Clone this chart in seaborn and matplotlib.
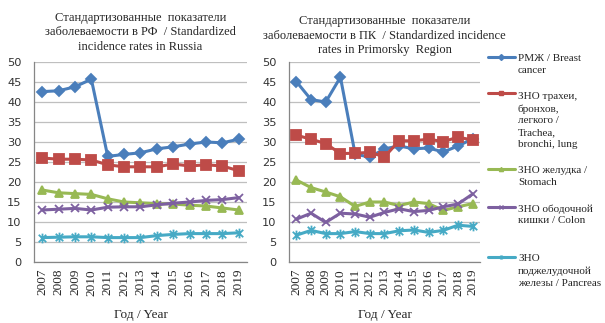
import numpy as np
import pandas as pd
import matplotlib
matplotlib.use("Agg")
import matplotlib.pyplot as plt
import seaborn as sns
from matplotlib.legend_handler import HandlerLine2D
from matplotlib.lines import Line2D
from matplotlib.path import Path
from matplotlib.font_manager import FontProperties

years = list(range(2007, 2020))

# Russia
ru_breast = [42.6, 42.8, 43.8, 45.7, 26.4, 26.9, 27.3, 28.3, 28.8, 29.5, 30.0, 29.8, 30.7]
ru_lung = [26.0, 25.7, 25.7, 25.5, 24.3, 23.8, 23.8, 23.8, 24.5, 24.0, 24.3, 24.0, 22.8]
ru_stomach = [18.0, 17.3, 17.1, 16.9, 15.8, 15.0, 14.8, 14.6, 14.5, 14.2, 14.0, 13.5, 13.0]
ru_colon = [13.0, 13.2, 13.4, 13.0, 13.7, 13.8, 13.8, 14.3, 14.7, 15.0, 15.4, 15.6, 16.1]
ru_pancreas = [6.1, 6.2, 6.3, 6.3, 6.1, 6.1, 6.1, 6.6, 6.9, 7.1, 7.1, 7.1, 7.3]

# Primorsky Region
pk_breast = [45.1, 40.6, 40.0, 46.2, 27.0, 26.2, 28.3, 29.0, 28.3, 28.5, 27.5, 29.0, 30.8]
pk_lung = [31.7, 30.7, 29.6, 27.1, 27.2, 27.4, 26.3, 30.3, 30.3, 30.7, 30.1, 31.2, 30.5]
pk_stomach = [20.5, 18.6, 17.5, 16.3, 13.9, 15.0, 15.0, 14.1, 15.0, 14.6, 12.9, 13.8, 14.6]
pk_colon = [10.7, 12.2, 9.9, 12.2, 12.0, 11.2, 12.4, 13.3, 12.6, 12.9, 13.8, 14.5, 17.0]
pk_pancreas = [6.7, 7.9, 7.1, 7.1, 7.6, 7.1, 7.1, 7.8, 8.0, 7.4, 7.9, 9.2, 8.9]

series_labels = [
    "РМЖ / Breast\ncancer",
    "ЗНО трахеи,\nбронхов,\nлегкого /\nTrachea,\nbronchi, lung",
    "ЗНО желудка /\nStomach",
    "ЗНО ободочной\nкишки / Colon\n",
    "ЗНО\nподжелудочной\nжелезы / Pancreas",
]
title_ru = "Стандартизованные  показатели\nзаболеваемости в РФ  / Standardized\nincidence rates in Russia"
title_pk = "Стандартизованные  показатели\nзаболеваемости в ПК  / Standardized incidence\nrates in Primorsky  Region"
xlabel_text = "Год / Year"
yticks = list(range(0, 51, 5))

colors = ["#4A7EBB", "#BE4B48", "#98B954", "#7D60A0", "#46AAC5"]
asterisk = Path([(-1, -1), (1, 1), (-1, 1), (1, -1), (0, -1.3), (0, 1.3)],
                [Path.MOVETO, Path.LINETO, Path.MOVETO, Path.LINETO, Path.MOVETO, Path.LINETO])
markers = ["D", "s", "^", "x", asterisk]
msizes = [5, 6.5, 6, 6, 7]

sns.set_style("white")
plt.rcParams['font.family'] = ['DejaVu Sans']
SERIF = 'Liberation Serif'

fig = plt.figure(figsize=(6.05, 3.23), dpi=100)
ax1 = fig.add_axes([34 / 605, 61 / 323, 213 / 605, 200 / 323])
ax2 = fig.add_axes([289 / 605, 61 / 323, 191 / 605, 200 / 323])

datasets = [
    (ax1, [ru_breast, ru_lung, ru_stomach, ru_colon, ru_pancreas], title_ru, 9),
    (ax2, [pk_breast, pk_lung, pk_stomach, pk_colon, pk_pancreas], title_pk, 6.5),
]

for ax, series, title, tpad in datasets:
    for vals, c, m, ms in zip(series, colors, markers, msizes):
        df = pd.DataFrame({"year": years, "value": vals})
        sns.lineplot(data=df, x="year", y="value", ax=ax, color=c, lw=2.2,
                     marker=m, markersize=ms, markeredgecolor=c,
                     markerfacecolor=c, markeredgewidth=1.3, legend=False)
    ax.set_xlim(2006.5, 2019.5)
    ax.set_ylim(0, 50)
    ax.set_yticks(yticks)
    ax.yaxis.grid(True, color="#BFBFBF", lw=0.9)
    ax.set_axisbelow(True)
    ax.set_xticks(years)
    ax.set_xticklabels([str(y) for y in years], rotation=90,
                       fontfamily=SERIF, fontsize=9.5)
    ax.set_xticks(np.arange(2006.5, 2020, 1.0), minor=True)
    ax.tick_params(axis="x", which="major", length=0, pad=5)
    ax.tick_params(axis="x", which="minor", length=4, color="#868686", width=0.9)
    ax.tick_params(axis="y", length=4, color="#868686", width=0.9, pad=5,
                   labelsize=8.2, labelcolor="#333333")
    for s in ["top", "right"]:
        ax.spines[s].set_visible(False)
    for s in ["left", "bottom"]:
        ax.spines[s].set_color("#868686")
        ax.spines[s].set_linewidth(0.9)
    ax.set_ylabel("")
    ax.set_xlabel(xlabel_text, fontfamily=SERIF, fontsize=9.5, labelpad=10)
    ax.set_title(title, fontfamily=SERIF, fontsize=9, linespacing=1.25, pad=tpad)


class TopLine(HandlerLine2D):
    def __init__(self, shift, **kw):
        super().__init__(**kw)
        self.shift = shift

    def create_artists(self, legend, orig_handle, xdescent, ydescent, width,
                       height, fontsize, trans):
        arts = super().create_artists(legend, orig_handle, xdescent, ydescent,
                                      width, height, fontsize, trans)
        for a in arts:
            if isinstance(a, Line2D):
                a.set_ydata(np.asarray(a.get_ydata(), dtype=float) + self.shift)
        return arts


leg_fs = 8
leg_ls = 1.40
pitch = leg_fs * leg_ls * 0.86
handles = []
hmap = {}
for c, m, lab in zip(colors, markers, series_labels):
    h = Line2D([], [], color=c, lw=2.2, marker=m, markersize=3,
               markeredgecolor=c, markerfacecolor=c)
    handles.append(h)
    n = lab.count("\n") + 1
    hmap[h] = TopLine((n - 1) / 2 * pitch, numpoints=1)

leg = fig.legend(handles, series_labels, loc="upper left",
                 bbox_to_anchor=(488 / 605, 1 - 54 / 323), frameon=False,
                 borderpad=0, borderaxespad=0, handlelength=2.4,
                 handletextpad=0.3, labelspacing=1.55,
                 prop=FontProperties(family=SERIF, size=leg_fs),
                 handler_map=hmap)
for t in leg.get_texts():
    t.set_linespacing(leg_ls)

fig.savefig("out.png", dpi=100)
